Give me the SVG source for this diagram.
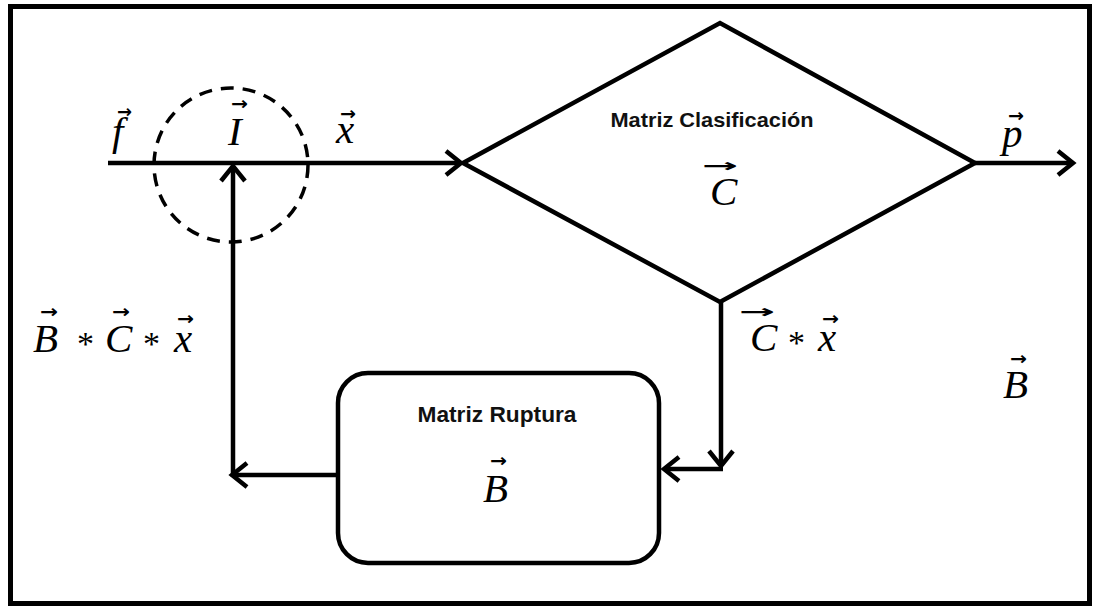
<svg xmlns="http://www.w3.org/2000/svg" width="1094" height="609" viewBox="0 0 1094 609">
<style>
.ln{fill:none;stroke:#000;stroke-width:4.5}
.sh{fill:#fff;stroke:#000;stroke-width:4.5}
.m{font-family:"Liberation Serif",serif;font-style:italic;font-size:41px;fill:#000}
.op{font-style:normal;font-size:34px}
.ar{font-family:"DejaVu Sans",sans-serif;font-style:normal;font-size:18px;font-weight:bold}
.lb{font-family:"Liberation Sans",Arial,sans-serif;font-weight:bold;fill:#111;text-anchor:middle}
</style>
<defs>
<marker id="ah" viewBox="-18 -14 20 28" markerWidth="20" markerHeight="28" refX="0" refY="0" orient="auto" markerUnits="userSpaceOnUse" overflow="visible">
<path d="M-15,-12 L0,0 L-15,12" fill="none" stroke="#000" stroke-width="4.5" stroke-linejoin="miter"/>
</marker>
</defs>
<rect x="0" y="0" width="1094" height="609" fill="#fff"/>
<rect x="10.5" y="6.5" width="1079" height="597" fill="none" stroke="#000" stroke-width="5"/>

<g id="connectors">
<path class="ln" d="M108,163 H461" marker-end="url(#ah)"/>
<path class="ln" d="M975,163 H1073" marker-end="url(#ah)"/>
<path class="ln" d="M721,302 V466" marker-end="url(#ah)"/>
<path class="ln" d="M723,469 H664" marker-end="url(#ah)"/>
<path class="ln" d="M338,475 H232" marker-end="url(#ah)"/>
<path class="ln" d="M233,477 V166" marker-end="url(#ah)"/>
</g>

<g id="node-I">
<circle cx="231" cy="165" r="77" fill="none" stroke="#000" stroke-width="3.5" stroke-dasharray="13 9"/>
<text class="m"><tspan x="228" y="145">I</tspan><tspan class="ar" x="231" y="110" textLength="17" lengthAdjust="spacingAndGlyphs">→</tspan></text>
</g>

<g id="node-C">
<polygon class="sh" points="463,163 720,23 975,163 720,302"/>
<text class="lb" x="712" y="127" font-size="21" textLength="203" lengthAdjust="spacingAndGlyphs">Matriz Clasificación</text>
<text class="m"><tspan x="710" y="205">C</tspan><tspan class="ar" x="702" y="172" textLength="36" lengthAdjust="spacingAndGlyphs">→</tspan></text>
</g>

<g id="node-B">
<rect class="sh" x="338" y="373" width="321" height="190" rx="30"/>
<text class="lb" x="497" y="422" font-size="22" textLength="159" lengthAdjust="spacingAndGlyphs">Matriz Ruptura</text>
<text class="m"><tspan x="483" y="502">B</tspan><tspan class="ar" x="490" y="467" textLength="17" lengthAdjust="spacingAndGlyphs">→</tspan></text>
</g>

<g id="labels">
<text class="m"><tspan x="112" y="145">f</tspan><tspan class="ar" x="117" y="118" textLength="15" lengthAdjust="spacingAndGlyphs">→</tspan></text>

<text class="m"><tspan x="336" y="143">x</tspan><tspan class="ar" x="340" y="120" textLength="16" lengthAdjust="spacingAndGlyphs">→</tspan></text>

<text class="m"><tspan x="1002" y="147">p</tspan><tspan class="ar" x="1008" y="122" textLength="16" lengthAdjust="spacingAndGlyphs">→</tspan></text>

<text class="m"><tspan x="33" y="352">B</tspan><tspan class="ar" x="40" y="318" textLength="18" lengthAdjust="spacingAndGlyphs">→</tspan><tspan class="op" x="77" y="355">*</tspan><tspan x="105" y="352">C</tspan><tspan class="ar" x="112" y="318" textLength="18" lengthAdjust="spacingAndGlyphs">→</tspan><tspan class="op" x="143" y="355">*</tspan><tspan x="174" y="352">x</tspan><tspan class="ar" x="177" y="325" textLength="17" lengthAdjust="spacingAndGlyphs">→</tspan></text>

<text class="m"><tspan x="750" y="351">C</tspan><tspan class="ar" x="739" y="318" textLength="36" lengthAdjust="spacingAndGlyphs">→</tspan><tspan class="op" x="788" y="354">*</tspan><tspan x="818" y="351">x</tspan><tspan class="ar" x="822" y="325" textLength="17" lengthAdjust="spacingAndGlyphs">→</tspan></text>

<text class="m"><tspan x="1003" y="398">B</tspan><tspan class="ar" x="1010" y="365" textLength="17" lengthAdjust="spacingAndGlyphs">→</tspan></text>
</g>
</svg>
